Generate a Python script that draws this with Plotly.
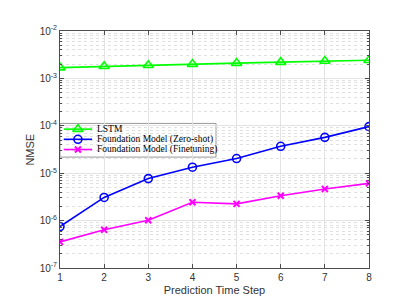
import plotly.graph_objects as go

steps = [1, 2, 3, 4, 5, 6, 7, 8]
lstm = [1.69e-3, 1.80e-3, 1.90e-3, 2.0e-3, 2.1e-3, 2.2e-3, 2.33e-3, 2.42e-3]
zero_shot = [7.5e-7, 3.08e-6, 7.7e-6, 1.34e-5, 2.04e-5, 3.7e-5, 5.7e-5, 9.6e-5]
finetune = [3.56e-7, 6.4e-7, 1.02e-6, 2.43e-6, 2.25e-6, 3.34e-6, 4.65e-6, 6.1e-6]
series_names = ["LSTM", "Foundation Model (Zero-shot)", "Foundation Model (Finetuning)"]
ytick_vals = [1e-7, 1e-6, 1e-5, 1e-4, 1e-3, 1e-2]
ytick_text = ["10<sup>-7</sup>", "10<sup>-6</sup>", "10<sup>-5</sup>",
              "10<sup>-4</sup>", "10<sup>-3</sup>", "10<sup>-2</sup>"]

colors = ["#00ff00", "#0000ff", "#ff00ff"]
symbols = ["triangle-up-open", "circle-open", "x-thin-open"]
msizes = [9, 8, 6]
mlw = [1.6, 1.6, 2]

fig = go.Figure()
for name, ys, c, s, ms, lw in zip(series_names, [lstm, zero_shot, finetune],
                                  colors, symbols, msizes, mlw):
    fig.add_trace(go.Scatter(x=steps, y=ys, mode="lines+markers", name=name,
                             line=dict(color=c, width=1.6),
                             marker=dict(symbol=s, size=ms, color=c,
                                         line=dict(width=lw, color=c))))

axis_common = dict(showline=True, linecolor="#4d4d4d", linewidth=1, mirror="ticks",
                   ticks="inside", ticklen=4, tickcolor="#4d4d4d",
                   gridcolor="#e3e3e3", gridwidth=1, zeroline=False,
                   tickfont=dict(family="Liberation Sans, Arial", size=10, color="#333333"))

fig.update_xaxes(range=[1, 8], tickvals=steps, **axis_common,
                 title=dict(text="Prediction Time Step", standoff=4,
                            font=dict(family="Liberation Sans, Arial", size=11, color="#333333")))
fig.update_yaxes(type="log", range=[-7, -2], tickvals=ytick_vals, ticktext=ytick_text,
                 **axis_common,
                 minor=dict(showgrid=True, gridcolor="#e0e0e0", griddash="dot",
                            ticks="inside", ticklen=2, tickcolor="#4d4d4d",
                            tickvals=[m * 10.0 ** e for e in range(-7, -2) for m in range(2, 10)]))

# y-axis title placed like MATLAB's
fig.add_annotation(x=-0.1, y=0.5, xref="paper", yref="paper", text="NMSE", textangle=-90,
                   showarrow=False, xanchor="center", yanchor="middle",
                   font=dict(family="Liberation Sans, Arial", size=11, color="#333333"))

# compact MATLAB-style legend drawn on an overlay axis spanning the plot area
fig.update_layout(
    xaxis2=dict(overlaying="x", range=[0, 1], visible=False, fixedrange=True),
    yaxis2=dict(overlaying="y", range=[0, 1], visible=False, fixedrange=True),
)
fig.add_shape(type="rect", xref="x domain", yref="y domain", x0=0.0, x1=0.505,
              y0=0.468, y1=0.61, fillcolor="white",
              line=dict(color="#999999", width=1), layer="below")
row_y = [0.586, 0.543, 0.500]
for name, c, s, ms, lw, ry in zip(series_names, colors, symbols, msizes, mlw, row_y):
    fig.add_trace(go.Scatter(x=[0.012, 0.058, 0.104], y=[ry, ry, ry], xaxis="x2", yaxis="y2",
                             mode="lines", showlegend=False, hoverinfo="skip",
                             line=dict(color=c, width=1.6)))
    fig.add_trace(go.Scatter(x=[0.058], y=[ry], xaxis="x2", yaxis="y2",
                             mode="markers", showlegend=False, hoverinfo="skip",
                             marker=dict(symbol=s, size=ms, color=c,
                                         line=dict(width=lw, color=c))))
    fig.add_annotation(x=0.112, y=ry, xref="x2", yref="y2", text=name, showarrow=False,
                       xanchor="left", yanchor="middle",
                       font=dict(family="Liberation Serif, Times New Roman", size=9.5,
                                 color="#000000"))

fig.update_layout(
    width=399, height=299,
    margin=dict(l=52, r=38, t=23, b=33),
    paper_bgcolor="white", plot_bgcolor="white",
    showlegend=False,
)

fig.write_html("out.html")
